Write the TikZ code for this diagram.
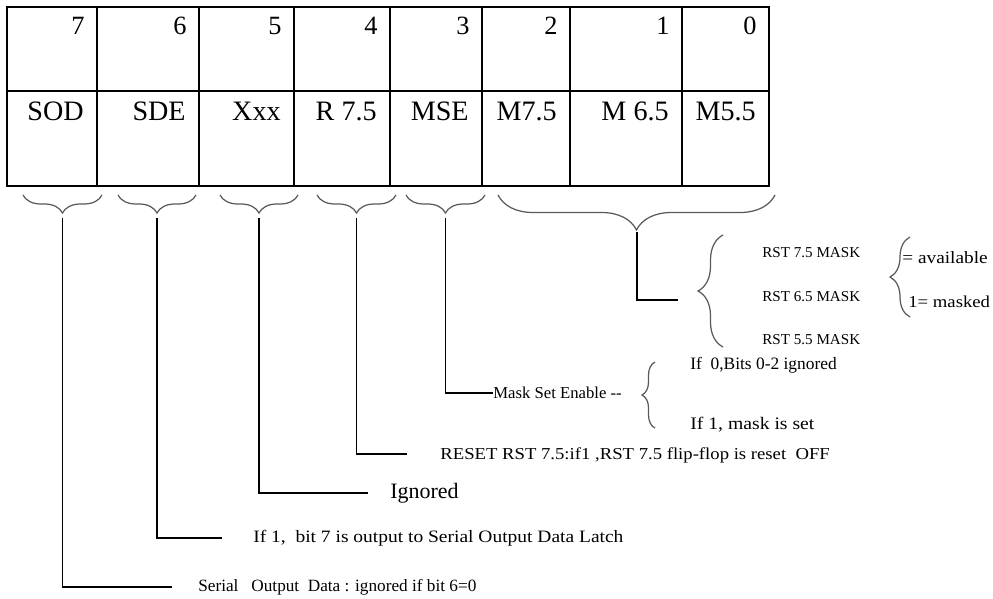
\documentclass[tikz,border=0pt]{standalone}
\usepackage{fontspec}
\setmainfont{Liberation Serif}
\newfontfamily\widefont[FakeStretch=1.12]{Liberation Serif}
\usetikzlibrary{decorations.pathreplacing,calc,positioning}

\begin{document}
\begin{tikzpicture}[x=0.02cm,y=-0.02cm,
  grid/.style={line width=1.1pt},
  bitno/.style={inner sep=0pt,anchor=east,font=\fontsize{15}{16}\selectfont},
  field/.style={inner sep=0pt,anchor=east,font=\fontsize{16}{17}\selectfont},
  brc/.style={decorate,decoration={brace,amplitude=#1},draw=black!65,line width=0.7pt},
  lead/.style={line width=0.9pt},
  note/.style={inner sep=0pt,anchor=west,font=\fontsize{9.5}{11}\selectfont},
  wnote/.style={note,font=\widefont\fontsize{#1}{11}\selectfont}]
  \useasboundingbox (0,0) rectangle (993,598);
  % register
  \draw[grid] (7,7) rectangle (769,186);
  \draw[grid] (7,91) -- (769,91);
  \foreach \xr/\bit/\fld in {97/7/SOD,199/6/SDE,294/5/Xxx,390/4/R 7.5,482/3/MSE,570/2/M7.5,682/1/M 6.5,769/0/M5.5} {
    \draw[grid] (\xr,7) -- (\xr,186);
    \node[bitno] (n\bit) at (\xr-12,26) {\bit};
    \node[field] (f\bit) at (\xr-13,111) {\fld};
  }
  % braces under the bits
  \foreach \a/\b/\bit in {23/102/7,118/196/6,220/298/5,317/396/4,406/485/3} {
    \draw[brc=0.36cm] (\b,195) -- (\a,195);
    \coordinate (t\bit) at ({(\a+\b)/2},218);
  }
  \draw[brc=0.7cm] (775,195) -- (498,195);
  \coordinate (tm) at (637,232);
  % descriptions
  \node[note,font=\fontsize{9.8}{11}\selectfont] (l7) at (198,587) {Serial\ \ \ Output\ \ Data : ignored if bit 6=0};
  \node[wnote=9.9] (l6) at (253,538) {If 1,\ \ bit 7 is output to Serial Output Data Latch};
  \node[note,font=\fontsize{12.5}{14}\selectfont] (l5) at (390,493) {Ignored};
  \node[wnote=9.5] (l4) at (440,455) {RESET RST 7.5:if1 ,RST 7.5 flip-flop is reset\ \ OFF};
  \node[note] (l3) at (493,393) {Mask Set Enable -{}-};
  \node[note,font=\fontsize{9.9}{11}\selectfont] (m0) at (690,365) {If\ \ 0,Bits 0-2 ignored};
  \node[wnote=10] (m1) at (690,425) {If 1, mask is set};
  \node[note,font=\fontsize{8.6}{10}\selectfont] (r7) at (762,253) {RST 7.5 MASK};
  \node[note,font=\fontsize{8.6}{10}\selectfont] (r6) at (762,297) {RST 6.5 MASK};
  \node[note,font=\fontsize{8.6}{10}\selectfont] (r5) at (762,340) {RST 5.5 MASK};
  \node[wnote=9.8] (av) at (902,258) {= available};
  \node[wnote=9.5] (mk) at (908,302) {1= masked};
  % right-hand braces
  \draw[brc=0.5cm] (723,347) -- (723,235);
  \draw[brc=0.26cm] (655,428) -- (655,362);
  \draw[brc=0.4cm] (910,317) -- (910,237);
  % leaders
  \coordinate (e7) at (172,587);
  \coordinate (e6) at (222,538);
  \coordinate (e5) at (368,493);
  \coordinate (e4) at (407,454);
  \coordinate (em) at (678,300);
  \draw[lead] (t7) |- (e7);
  \draw[lead] (t6) |- (e6);
  \draw[lead] (t5) |- (e5);
  \draw[lead] (t4) |- (e4);
  \draw[lead] (t3) |- (l3.west);
  \draw[lead] (tm) |- (em);
\end{tikzpicture}
\end{document}
